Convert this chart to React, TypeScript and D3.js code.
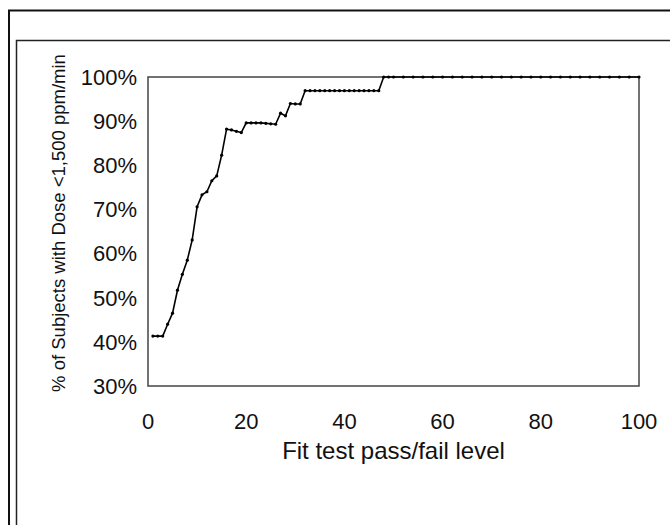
import React from 'react'
import * as d3 from 'd3'

// fit test pass/fail level (x) and % of subjects below the dose limit (y)
const fitLevels = [
  1, 2, 3, 4, 5, 6, 7, 8, 9, 10, 11, 12, 13, 14, 15, 16, 17, 18, 19, 20,
  21, 22, 23, 24, 25, 26, 27, 28, 29, 30, 31, 32, 33, 34, 35, 36, 37, 38, 39, 40,
  41, 42, 43, 44, 45, 46, 47, 48, 49, 50, 52, 54, 56, 58, 60, 62, 64, 66, 68, 70,
  72, 74, 76, 78, 80, 82, 84, 86, 88, 90, 92, 94, 96, 98, 100
];
const pctBelowDose = [
  41.3, 41.3, 41.3, 44.0, 46.5, 51.7, 55.3, 58.5, 63.1, 70.6, 73.3, 74.0, 76.5, 77.6, 82.3, 88.2, 88.0, 87.7, 87.4, 89.6,
  89.6, 89.6, 89.6, 89.5, 89.4, 89.3, 91.8, 91.2, 94.0, 93.9, 93.9, 96.9, 96.9, 96.9, 96.9, 96.9, 96.9, 96.9, 96.9, 96.9,
  96.9, 96.9, 96.9, 96.9, 96.9, 96.9, 96.9, 100, 100, 100, 100, 100, 100, 100, 100, 100, 100, 100, 100, 100,
  100, 100, 100, 100, 100, 100, 100, 100, 100, 100, 100, 100, 100, 100, 100
];
const xTicks = [0, 20, 40, 60, 80, 100];
const yTicks = [30, 40, 50, 60, 70, 80, 90, 100];

const xTitle = 'Fit test pass/fail level';
const yTitle = '% of Subjects with Dose <1,500 ppm/min';

const FONT = '"Liberation Sans", Arial, sans-serif';

class App extends React.Component {
  chartRef: SVGSVGElement | null = null;

  componentDidMount() {
    this.drawChart();
  }

  getScales() {
    const xScale = d3.scaleLinear().domain([0, 100]).range([148, 639]);
    const yScale = d3.scaleLinear().domain([30, 100]).range([386, 77]);
    return { xScale, yScale };
  }

  drawChart() {
    const svg = d3.select(this.chartRef);
    svg.selectAll('*').remove();
    const { xScale, yScale } = this.getScales();

    // outer and inner frames (run off the page right and bottom)
    svg.append('rect')
      .attr('x', 9).attr('y', 10.5)
      .attr('width', 700).attr('height', 560)
      .attr('fill', 'none').attr('stroke', '#111').attr('stroke-width', 2);
    svg.append('rect')
      .attr('x', 16.5).attr('y', 40.5)
      .attr('width', 700).attr('height', 560)
      .attr('fill', 'none').attr('stroke', '#222').attr('stroke-width', 1.5);

    // plot area border
    svg.append('rect')
      .attr('x', xScale(0)).attr('y', yScale(100))
      .attr('width', xScale(100) - xScale(0))
      .attr('height', yScale(30) - yScale(100))
      .attr('fill', 'none').attr('stroke', '#444').attr('stroke-width', 1.5);

    // y tick labels
    svg.append('g')
      .selectAll('text')
      .data(yTicks)
      .enter()
        .append('text')
          .attr('x', 137)
          .attr('y', (d) => yScale(d))
          .attr('dy', '0.36em')
          .attr('text-anchor', 'end')
          .attr('font-family', FONT)
          .attr('font-size', 22)
          .attr('fill', '#111')
          .text((d) => `${d}%`);

    // x tick labels
    svg.append('g')
      .selectAll('text')
      .data(xTicks)
      .enter()
        .append('text')
          .attr('x', (d) => xScale(d))
          .attr('y', 421)
          .attr('dy', '0.36em')
          .attr('text-anchor', 'middle')
          .attr('font-family', FONT)
          .attr('font-size', 22)
          .attr('fill', '#111')
          .text((d) => d);

    // axis titles
    svg.append('text')
      .attr('x', (xScale(0) + xScale(100)) / 2)
      .attr('y', 450)
      .attr('dy', '0.36em')
      .attr('text-anchor', 'middle')
      .attr('font-family', FONT)
      .attr('font-size', 24)
      .attr('fill', '#111')
      .text(xTitle);

    svg.append('text')
      .attr('transform', `translate(58, 223) rotate(-90)`)
      .attr('dy', '0.36em')
      .attr('text-anchor', 'middle')
      .attr('font-family', FONT)
      .attr('font-size', 18.5)
      .attr('fill', '#111')
      .text(yTitle);

    const points = fitLevels.map((x, i) => ({ x, y: pctBelowDose[i] }));

    const line = d3.line<{ x: number; y: number }>()
      .x((d) => xScale(d.x))
      .y((d) => yScale(d.y));

    svg.append('path')
      .datum(points)
      .attr('d', line)
      .attr('fill', 'none')
      .attr('stroke', '#000')
      .attr('stroke-width', 1.6);

    svg.append('g')
      .selectAll('circle')
      .data(points)
      .enter()
        .append('circle')
          .attr('cx', (d) => xScale(d.x))
          .attr('cy', (d) => yScale(d.y))
          .attr('r', 1.6)
          .attr('fill', '#000');
  }

  render() {
    return (
      <svg
        ref={(r) => { this.chartRef = r; }}
        width={670}
        height={525}
        style={{ position: 'absolute', left: 0, top: 0, background: '#fff' }}
      />
    );
  }
}

export default App;
